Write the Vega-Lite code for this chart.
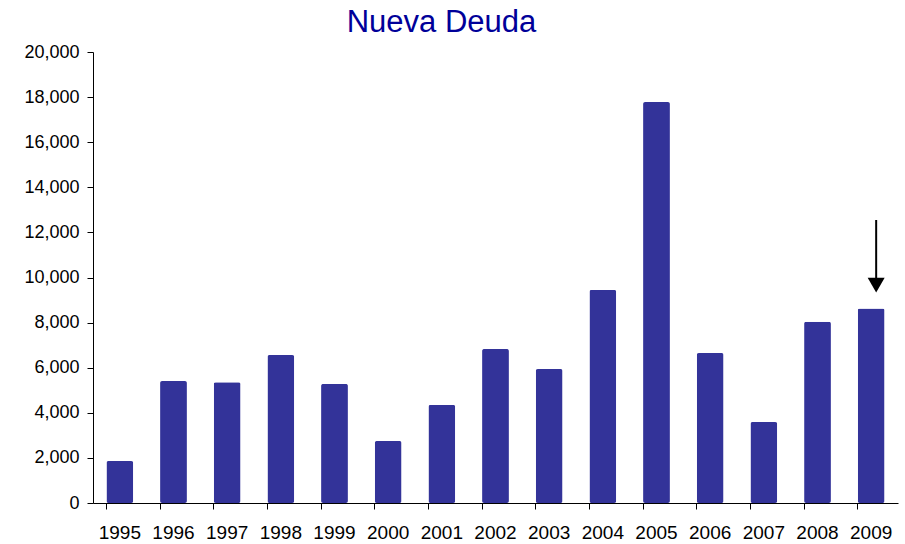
{
  "$schema": "https://vega.github.io/schema/vega-lite/v6.json",
  "autosize": {"type": "none"},
  "padding": {"left": 93, "top": 52, "right": 7, "bottom": 41},
  "width": 805,
  "height": 451,
  "background": "white",
  "title": {
    "text": "Nueva Deuda",
    "color": "#000099",
    "font": "Liberation Sans",
    "fontSize": 31,
    "fontWeight": "normal",
    "anchor": "middle",
    "dx": -54,
    "offset": 4
  },
  "config": {
    "view": {"stroke": null},
    "axis": {"grid": false, "domainColor": "#000", "tickColor": "#000", "labelColor": "#000", "labelFont": "Liberation Sans", "titleFont": "Liberation Sans"}
  },
  "datasets": {
    "debt": [
      {"year": "1995", "deuda": 1860},
      {"year": "1996", "deuda": 5410},
      {"year": "1997", "deuda": 5350},
      {"year": "1998", "deuda": 6560},
      {"year": "1999", "deuda": 5280},
      {"year": "2000", "deuda": 2750},
      {"year": "2001", "deuda": 4350},
      {"year": "2002", "deuda": 6830},
      {"year": "2003", "deuda": 5940},
      {"year": "2004", "deuda": 9450},
      {"year": "2005", "deuda": 17780},
      {"year": "2006", "deuda": 6650},
      {"year": "2007", "deuda": 3590},
      {"year": "2008", "deuda": 8040},
      {"year": "2009", "deuda": 8630}
    ],
    "arrow": [
      {"year": "2009", "start": 12550, "end": 9900, "head": 9660}
    ]
  },
  "layer": [
    {
      "data": {"name": "debt"},
      "mark": {"type": "bar", "color": "#333399", "cornerRadius": 2},
      "encoding": {
        "x": {
          "field": "year", "type": "ordinal", "title": null,
          "scale": {"paddingInner": 0.5, "paddingOuter": 0.25},
          "axis": {"labelAngle": 0, "bandPosition": 0, "tickSize": 6, "labelPadding": 14, "labelFontSize": 19, "domainWidth": 1}
        },
        "y": {
          "field": "deuda", "type": "quantitative", "title": null,
          "scale": {"domain": [0, 20000], "nice": false},
          "axis": {"values": [0, 2000, 4000, 6000, 8000, 10000, 12000, 14000, 16000, 18000, 20000], "format": ",d", "tickSize": 6, "labelPadding": 8, "labelFontSize": 18}
        }
      }
    },
    {
      "data": {"name": "arrow"},
      "mark": {"type": "rule", "color": "#000", "strokeWidth": 2, "xOffset": 5},
      "encoding": {
        "x": {"field": "year", "type": "ordinal"},
        "y": {"field": "start", "type": "quantitative"},
        "y2": {"field": "end"}
      }
    },
    {
      "data": {"name": "arrow"},
      "mark": {"type": "point", "shape": "triangle-down", "filled": true, "color": "#000", "size": 289, "opacity": 1, "xOffset": 5},
      "encoding": {
        "x": {"field": "year", "type": "ordinal"},
        "y": {"field": "head", "type": "quantitative"}
      }
    }
  ]
}
